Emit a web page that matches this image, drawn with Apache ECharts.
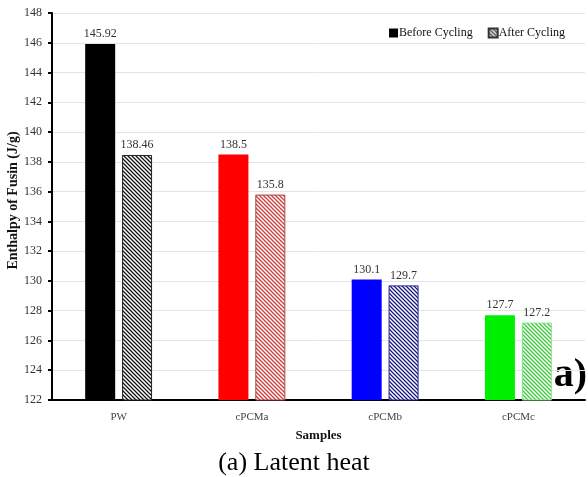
<!DOCTYPE html>
<html>
<head>
<meta charset="utf-8">
<script src="https://cdn.jsdelivr.net/npm/echarts@6/dist/echarts.min.js"></script>
<style>
  html, body { margin: 0; padding: 0; background: #fff; }
  #chart { width: 588px; height: 477px; }
</style>
</head>
<body>
<div id="chart"></div>
<script>
var samples = ['PW', 'cPCMa', 'cPCMb', 'cPCMc']
var beforeCycling = [145.92, 138.5, 130.1, 127.7]
var afterCycling = [138.46, 135.8, 129.7, 127.2]
var yTicks = { min: 122, max: 148, step: 2 }

var solidColors = ['#000000', '#ff0000', '#0000ff', '#00ee00']
var hatchLines = ['#111111', '#c83c3c', '#1a1a80', '#3cc83c']
var hatchBorders = ['#222222', '#b04040', '#20208a', '#8ce08c']

function hatch(line) {
  var c = document.createElement('canvas')
  c.width = 4
  c.height = 4
  var ctx = c.getContext('2d')
  ctx.fillStyle = '#ffffff'
  ctx.fillRect(0, 0, 4, 4)
  ctx.strokeStyle = line
  ctx.lineWidth = 1.3
  ctx.beginPath()
  ctx.moveTo(-1, -1); ctx.lineTo(5, 5)
  ctx.moveTo(-1, 3); ctx.lineTo(1, 5)
  ctx.moveTo(3, -1); ctx.lineTo(5, 1)
  ctx.stroke()
  return { image: c, repeat: 'repeat' }
}

var chart = echarts.init(document.getElementById('chart'))
var font = '"Liberation Serif", "Times New Roman", serif'

chart.setOption({
  backgroundColor: '#fff',
  textStyle: { fontFamily: font },
  title: {
    text: '(a) Latent heat',
    left: 'center',
    top: 450,
    padding: 0,
    textStyle: { fontFamily: font, fontWeight: 'normal', fontSize: 26, color: '#000' }
  },
  legend: {
    top: 22,
    right: 18,
    icon: 'rect',
    itemWidth: 9,
    itemHeight: 9,
    itemGap: 15,
    textStyle: { fontFamily: font, fontSize: 12, color: '#111', padding: [0, 0, 0, -4] },
    data: ['Before Cycling', 'After Cycling']
  },
  grid: { left: 52, right: 3, top: 13, bottom: 77, outerBoundsMode: 'none' },
  graphic: [{
    type: 'text',
    right: 1,
    top: 356,
    style: { text: 'a)', font: 'bold 40px ' + font, fill: '#000' }
  }],
  xAxis: {
    type: 'category',
    data: samples,
    name: 'Samples',
    nameLocation: 'middle',
    nameGap: 29,
    nameTextStyle: { fontFamily: font, fontWeight: 'bold', fontSize: 13, color: '#111' },
    axisLine: { lineStyle: { color: '#000', width: 2 } },
    axisTick: { show: false },
    axisLabel: { fontFamily: font, fontSize: 11, color: '#444', margin: 12 }
  },
  yAxis: {
    type: 'value',
    min: yTicks.min,
    max: yTicks.max,
    interval: yTicks.step,
    name: 'Enthalpy of Fusin (J/g)',
    nameLocation: 'middle',
    nameGap: 32,
    nameMoveOverlap: false,
    nameTextStyle: { fontFamily: font, fontWeight: 'bold', fontSize: 14, color: '#111', padding: [0, 0, 0, 12] },
    axisLine: { show: true, lineStyle: { color: '#000', width: 2 } },
    axisTick: { show: true, length: 4, inside: false, lineStyle: { color: '#000', width: 2 } },
    axisLabel: { fontFamily: font, fontSize: 12, color: '#333', margin: 10 },
    splitLine: { lineStyle: { color: '#e4e4e4', width: 1 } }
  },
  series: [{
    name: 'Before Cycling',
    type: 'bar',
    barWidth: 30,
    barGap: '23%',
    itemStyle: { color: '#000' },
    label: { show: true, position: 'top', distance: 4, fontFamily: font, fontSize: 12, color: '#333' },
    data: beforeCycling.map(function(v, i) {
      return { value: v, itemStyle: { color: solidColors[i] } }
    })
  }, {
    name: 'After Cycling',
    type: 'bar',
    barWidth: 30,
    itemStyle: { color: hatch('#333333'), borderColor: '#333', borderWidth: 1 },
    label: { show: true, position: 'top', distance: 4, fontFamily: font, fontSize: 12, color: '#333' },
    data: afterCycling.map(function(v, i) {
      return { value: v, itemStyle: { color: hatch(hatchLines[i]), borderColor: hatchBorders[i], borderWidth: 1 } }
    })
  }]
})
</script>
</body>
</html>
